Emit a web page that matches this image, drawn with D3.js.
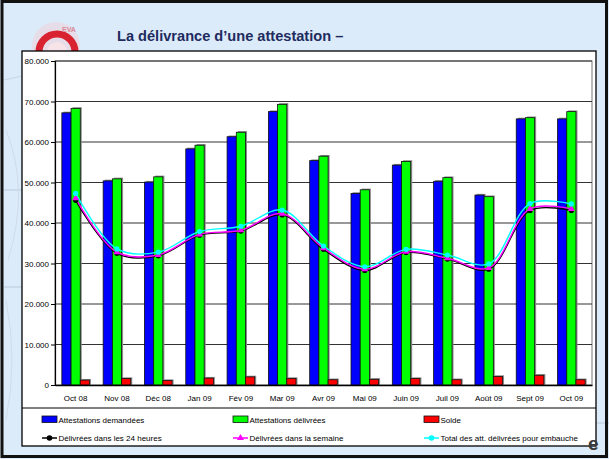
<!DOCTYPE html>
<html><head><meta charset="utf-8">
<script src="https://cdn.jsdelivr.net/npm/d3@7"></script>
<style>body{margin:0;background:#fff}svg{display:block}text{font-family:"Liberation Sans",Arial,sans-serif}</style>
</head><body><svg id="c" width="609" height="459"></svg>
<script>
const categories = ["Oct 08","Nov 08","Déc 08","Jan 09","Fév 09","Mar 09","Avr 09","Mai 09","Juin 09","Juil 09","Août 09","Sept 09","Oct 09"];
const demandees = [67200,50400,50100,58300,61300,67500,55400,47300,54300,50300,46900,65700,65700];
const delivrees = [68300,50900,51400,59200,62400,69300,56500,48200,55200,51200,46500,66000,67500];
const solde = [1200,1600,1100,1700,2000,1600,1300,1400,1600,1300,2100,2400,1300];
const h24 = [45600,32500,31900,37000,38000,42000,33500,28300,32700,31100,28600,43100,43100];
const semaine = [46100,32800,32100,37200,38200,42300,33800,28600,32900,31300,28900,43500,43500];
const total = [47300,33600,32800,37900,39200,43200,34300,29200,33500,32100,29900,44800,44700];
const yTicks = [0,10000,20000,30000,40000,50000,60000,70000,80000];
const barSeries = [
  {name:"Attestations demandées", values:demandees, color:"#0000ff"},
  {name:"Attestations délivrées", values:delivrees, color:"#00ff00"},
  {name:"Solde", values:solde, color:"#ff0000"}
];
const lineSeries = [
  {name:"Délivrées dans les 24 heures", values:h24, color:"#000000", marker:"circle"},
  {name:"Délivrées dans la semaine", values:semaine, color:"#ff00ff", marker:"triangle"},
  {name:"Total des att. délivrées pour embauche", values:total, color:"#00ffff", marker:"circle"}
];

const svg = d3.select("#c");
svg.append("rect").attr("x",0).attr("y",0).attr("width",609).attr("height",459).attr("fill","#dcebfa");
const deco = svg.append("g").attr("stroke","#b9c9db").attr("fill","none").attr("stroke-width",1);
deco.append("line").attr("x1",4).attr("x2",22).attr("y1",190).attr("y2",190);
deco.append("line").attr("x1",4).attr("x2",22).attr("y1",287).attr("y2",287);
deco.append("line").attr("x1",596).attr("x2",609).attr("y1",423).attr("y2",423);
deco.append("path").attr("d","M4,80 Q14,78 22,76").attr("stroke","#c8d6e6");
deco.append("path").attr("d","M6,130 Q30,190 8,260").attr("stroke","#cfdcea");
deco.append("path").attr("d","M6,300 Q18,360 6,420").attr("stroke","#cfdcea");
// logo
const logo = svg.append("g");
logo.append("circle").attr("cx",56).attr("cy",46).attr("r",24).attr("fill","#efd3dc").attr("opacity",0.6);
logo.append("circle").attr("cx",57).attr("cy",52).attr("r",18).attr("fill","none").attr("stroke","#d8222f").attr("stroke-width",7);
logo.append("circle").attr("cx",57).attr("cy",52).attr("r",10).attr("fill","#f6e4e9");
logo.append("text").attr("x",62).attr("y",32).attr("font-size",7).attr("fill","#d88a98").attr("font-weight","bold").text("EVA");
// title
svg.append("text").attr("x",117).attr("y",41).attr("font-size",14.6).attr("font-weight","bold")
  .attr("fill","#1e2b5e").text("La délivrance d’une attestation –");
// frame
svg.append("rect").attr("x",2).attr("y",1.5).attr("width",604.5).attr("height",455).attr("fill","none").attr("stroke","#111").attr("stroke-width",3);
// chart box
svg.append("rect").attr("x",22).attr("y",51).attr("width",574).attr("height",395).attr("fill","#fff").attr("stroke","#000").attr("stroke-width",1.3);
svg.append("line").attr("x1",22).attr("x2",596).attr("y1",408).attr("y2",408).attr("stroke","#000").attr("stroke-width",1);
svg.append("text").attr("x",588).attr("y",450).attr("font-size",19).attr("font-weight","bold").attr("fill","#3a3a3a").text("e");

const x = d3.scaleBand().domain(categories).range([55,592]).padding(0);
const y = d3.scaleLinear().domain([0,80000]).range([385,61]);
const loc = d3.formatLocale({decimal:",",thousands:".",grouping:[3],currency:["","€"]});
const fmt = loc.format(",.0f");

svg.append("rect").attr("x",55).attr("y",61).attr("width",537).attr("height",324).attr("fill","#fff").attr("stroke","#777").attr("stroke-width",1);
svg.append("g").selectAll("line").data(yTicks.filter(d=>d>0)).join("line")
  .attr("x1",55).attr("x2",592).attr("y1",d=>y(d)).attr("y2",d=>y(d))
  .attr("stroke","#333").attr("stroke-width",1);

const bw = 9.2;
const groupOff = (x.bandwidth()-3*bw)/2;
barSeries.forEach((s,i)=>{
  const g = svg.append("g");
  g.selectAll("rect.sh").data(s.values).join("rect").attr("class","sh")
    .attr("x",(d,j)=>x(categories[j])+groupOff+i*bw+1.5).attr("y",d=>y(d)-1.2)
    .attr("width",bw).attr("height",d=>y(0)-y(d)+1.2).attr("fill","#8a8a8a");
  g.selectAll("rect.b").data(s.values).join("rect").attr("class","b")
    .attr("x",(d,j)=>x(categories[j])+groupOff+i*bw).attr("y",d=>y(d))
    .attr("width",bw).attr("height",d=>y(0)-y(d)).attr("fill",s.color)
    .attr("stroke","#111").attr("stroke-width",0.8);
});

const yAxis = d3.axisLeft(y).tickValues(yTicks).tickFormat(fmt).tickSize(4).tickPadding(2);
const ya = svg.append("g").attr("transform","translate(55,0)").call(yAxis);
ya.select(".domain").attr("stroke","#000").attr("stroke-width",1.2);
ya.selectAll(".tick line").attr("stroke","#000");
ya.selectAll("text").attr("font-size",8).attr("font-family","Liberation Sans, Arial, sans-serif").attr("fill","#000");

const xAxis = d3.axisBottom(x).tickSize(0).tickPadding(10);
const xa = svg.append("g").attr("transform","translate(0,385)").call(xAxis);
xa.select(".domain").attr("stroke","#000").attr("stroke-width",1.3);
xa.selectAll("text").attr("font-size",8).attr("font-family","Liberation Sans, Arial, sans-serif").attr("fill","#000");

const cx = j => x(categories[j]) + x.bandwidth()/2;
const triangle = d3.symbol().type(d3.symbolTriangle).size(22);
lineSeries.forEach(s=>{
  const line = d3.line().x((d,j)=>cx(j)).y(d=>y(d)).curve(d3.curveCatmullRom.alpha(0.5));
  svg.append("path").datum(s.values).attr("d",line).attr("fill","none")
    .attr("stroke",s.color).attr("stroke-width",1.4);
});
lineSeries.forEach(s=>{
  const g = svg.append("g");
  if(s.marker==="circle"){
    g.selectAll("circle").data(s.values).join("circle").attr("cx",(d,j)=>cx(j)).attr("cy",d=>y(d))
      .attr("r",2.6).attr("fill",s.color);
  } else {
    g.selectAll("path").data(s.values).join("path").attr("d",triangle)
      .attr("transform",(d,j)=>`translate(${cx(j)},${y(d)})`).attr("fill",s.color);
  }
});

const legCols = [42,233,424];
const leg = svg.append("g");
barSeries.forEach((s,i)=>{
  leg.append("rect").attr("x",legCols[i]).attr("y",416).attr("width",15).attr("height",6.5)
    .attr("fill",s.color).attr("stroke","#111").attr("stroke-width",0.8);
  leg.append("text").attr("x",legCols[i]+16.5).attr("y",422.5).attr("font-size",8).attr("fill","#000").text(s.name);
});
lineSeries.forEach((s,i)=>{
  const ly = 438;
  leg.append("line").attr("x1",legCols[i]).attr("x2",legCols[i]+15).attr("y1",ly).attr("y2",ly)
    .attr("stroke",s.color).attr("stroke-width",1.5);
  if(s.marker==="circle"){
    leg.append("circle").attr("cx",legCols[i]+7.5).attr("cy",ly).attr("r",2.8).attr("fill",s.color);
  } else {
    leg.append("path").attr("d",triangle).attr("transform",`translate(${legCols[i]+7.5},${ly})`).attr("fill",s.color);
  }
  leg.append("text").attr("x",legCols[i]+16.5).attr("y",ly+3).attr("font-size",8).attr("fill","#000").text(s.name);
});
</script></body></html>
